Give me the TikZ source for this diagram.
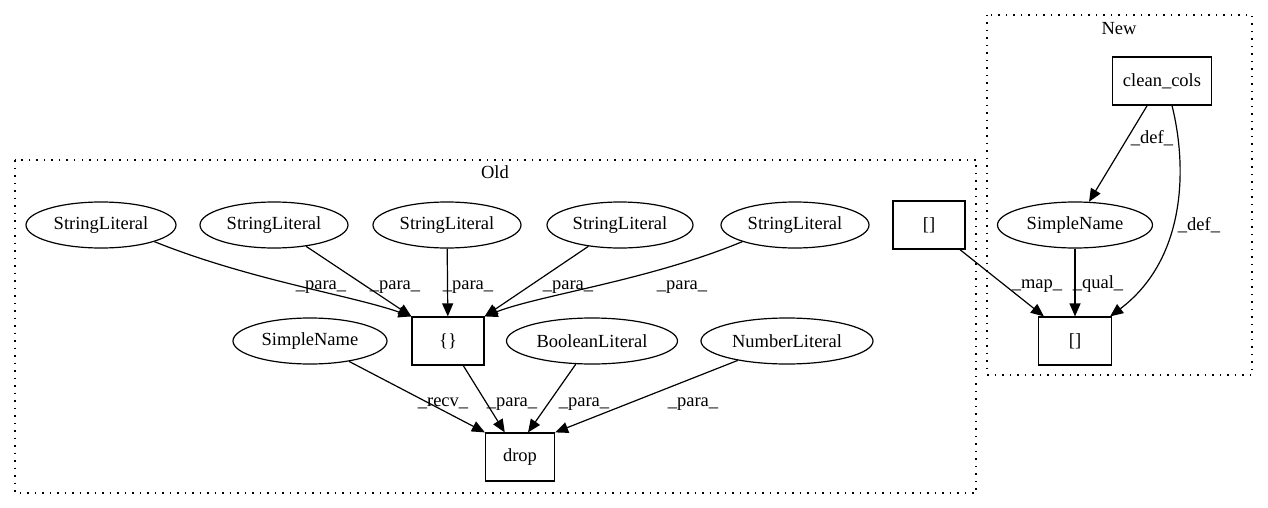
\documentclass[tikz,border=0pt]{standalone}
\usepackage{fontspec}
\setmainfont{Liberation Serif}
\usetikzlibrary{shapes.geometric,arrows.meta}
\begin{document}
\begin{tikzpicture}[x=1pt,y=-1pt,
  every node/.style={font=\fontsize{18.5}{20}\selectfont, inner sep=0pt},
  ell/.style={draw, ellipse, line width=1.2pt, minimum height=46pt},
  box/.style={draw, rectangle, line width=1.2pt, minimum height=48pt},
  lbl/.style={anchor=base},
  cluster/.style={line width=1.5pt, dash pattern=on 1.5pt off 6pt},
  edge/.style={line width=1.2pt, -{Triangle[length=13pt,width=11pt]}}]
\useasboundingbox (0,0) rectangle (1268,508);

% clusters
\draw[cluster] (15,160) rectangle (976,493);
\node[lbl] (oldlbl) at (495,178) {Old};
\draw[cluster] (987,15) rectangle (1252,375);
\node[lbl] (newlbl) at (1119,35) {New};

% nodes of the old version
\node[ell, minimum width=150pt] (sl1) at (101,225) {StringLiteral};
\node[ell, minimum width=148pt] (sl2) at (274,225) {StringLiteral};
\node[ell, minimum width=148pt] (sl3) at (447,225) {StringLiteral};
\node[ell, minimum width=146pt] (sl4) at (620,225) {StringLiteral};
\node[ell, minimum width=148pt] (sl5) at (795,225) {StringLiteral};
\node[box, minimum width=72pt] (brace) at (448,341) {\{\}};
\node[ell, minimum width=154pt] (sn1) at (310,341) {SimpleName};
\node[ell, minimum width=171pt] (bool) at (592,341) {BooleanLiteral};
\node[ell, minimum width=172pt] (num) at (787,341) {NumberLiteral};
\node[box, minimum width=69pt] (drop) at (520,457) {drop};

% nodes of the new version
\node[box, minimum width=72pt] (mapsrc) at (929,225) {[]};
\node[box, minimum width=99pt] (clean) at (1162,81) {clean\_cols};
\node[ell, minimum width=155pt] (sn2) at (1075,225) {SimpleName};
\node[box, minimum width=73pt] (tgt) at (1075,341) {[]};

% edges: old
\draw[edge] (sl1.south east) .. controls (250,280) and (350,295) .. (brace.north west);
\draw[edge] (sl2) -- (brace.north west);
\draw[edge] (sl3) -- (brace);
\draw[edge] (sl4) -- (brace.north east);
\draw[edge] (sl5.south west) .. controls (650,280) and (540,295) .. (brace.north east);
\draw[edge] (sn1) -- (drop.north west);
\draw[edge] (brace) -- (drop);
\draw[edge] (bool) -- ([xshift=8pt]drop.north);
\draw[edge] (num) -- (drop.north east);

\node[lbl] (l1) at (321,289) {\_para\_};
\node[lbl] (l2) at (395,289) {\_para\_};
\node[lbl] (l3) at (468,289) {\_para\_};
\node[lbl] (l4) at (568,289) {\_para\_};
\node[lbl] (l5) at (682,289) {\_para\_};
\node[lbl] (l6) at (443,406) {\_recv\_};
\node[lbl] (l7) at (512,406) {\_para\_};
\node[lbl] (l8) at (584,406) {\_para\_};
\node[lbl] (l9) at (693,406) {\_para\_};

% edges: new
\draw[edge] (clean) -- (sn2);
\draw[edge] ([xshift=10pt]clean.south) .. controls (1188,170) and (1185,260) .. ([xshift=-2pt]tgt.north east);
\draw[edge] (sn2) -- (tgt);
\draw[edge] (mapsrc) -- ([xshift=6pt]tgt.north west);

\node[lbl] (l10) at (1152,143) {\_def\_};
\node[lbl] (l11) at (1199,230) {\_def\_};
\node[lbl] (l12) at (1037,288) {\_map\_};
\node[lbl] (l13) at (1098,288) {\_qual\_};
\end{tikzpicture}
\end{document}
